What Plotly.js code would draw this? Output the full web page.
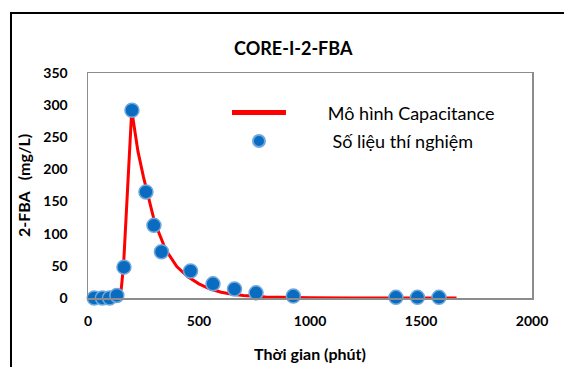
<!DOCTYPE html>
<html>
<head>
<meta charset="utf-8">
<script src="https://cdn.plot.ly/plotly-3.0.1.min.js"></script>
<style>
  html, body { margin:0; padding:0; background:#fff; }
  #wrap { position:relative; width:564px; height:367px; overflow:hidden; }
  #chart { position:absolute; left:0; top:0; width:564px; height:367px; }
  #frame { position:absolute; left:10px; top:12px; width:600px; height:420px; border:2px solid #000; pointer-events:none; }
</style>
</head>
<body>
<div id="wrap">
  <div id="chart"></div>
  <div id="frame"></div>
</div>
<script>
// Model curve (Mô hình Capacitance)
const modelTime = [0, 50, 100, 130, 140, 150, 160, 180, 197, 210, 225, 250, 275, 300, 350, 400, 450, 500, 550, 600, 650, 700, 800, 900, 1000, 1200, 1400, 1660];
const modelConc = [0, 0, 0, 0, 2, 15, 50, 180, 292, 262, 228, 188, 151, 118, 75, 49, 33, 22, 14, 9, 6, 4, 1.5, 0.6, 0.2, 0, 0, 0];

// Experimental data (Số liệu thí nghiệm)
const expTime = [28, 65, 97, 130, 162, 198, 261, 297, 331, 462, 563, 660, 757, 925, 1387, 1484, 1581];
const expConc = [0, 0, 0, 4, 48, 292, 165, 113, 72, 42, 22, 14, 8, 3, 1, 1, 1];

const xTicks = [0, 500, 1000, 1500, 2000];
const yTicks = [0, 50, 100, 150, 200, 250, 300, 350];

const FONT = 'Lato, "Open Sans", sans-serif';
const NB = '\u00a0';

const traces = [
  {
    x: modelTime, y: modelConc, type: 'scatter', mode: 'lines',
    name: NB.repeat(8) + 'Mô hình Capacitance',
    line: { color: '#FF0000', width: 3 },
    legendgroup: 'a', cliponaxis: false
  },
  {
    x: expTime, y: expConc, type: 'scatter', mode: 'markers',
    name: NB.repeat(9) + 'Số liệu thí nghiệm',
    marker: { color: '#0A6CC0', size: 14, line: { color: '#6FA8DC', width: 1.5 } },
    legendgroup: 'b', cliponaxis: false
  }
];

const layout = {
  width: 564, height: 367,
  margin: { l: 88, r: 32, t: 73, b: 69 },
  paper_bgcolor: '#fff', plot_bgcolor: '#fff',
  font: { family: FONT, color: '#000' },
  showlegend: true,
  title: {
    text: '<b>CORE-I-2-FBA</b>',
    font: { family: FONT, size: 18, color: '#000' },
    xref: 'container', yref: 'container',
    x: 0.52, xanchor: 'center', y: 0.866, yanchor: 'middle'
  },
  xaxis: {
    range: [0, 2000], tickvals: xTicks, ticktext: xTicks.map(v => '<b>' + v + '</b>'),
    showgrid: false, zeroline: false, ticks: '',
    showline: true, linecolor: '#8c8c8c', linewidth: 1.5, mirror: true,
    tickfont: { family: FONT, size: 14, color: '#000' },
    ticklabelstandoff: 10,
    title: { text: '<b>Thời gian (phút)</b>', font: { family: FONT, size: 16, color: '#000' }, standoff: 20 }
  },
  yaxis: {
    range: [0, 350], tickvals: yTicks, ticktext: yTicks.map(v => '<b>' + v + '</b>'),
    showgrid: false, zeroline: false, ticks: '',
    showline: true, linecolor: '#8c8c8c', linewidth: 1.5, mirror: true,
    tickfont: { family: FONT, size: 14, color: '#000' },
    ticklabelstandoff: 16,
    title: { text: '<b>2-FBA' + NB.repeat(3) + '(mg/L)</b>', font: { family: FONT, size: 16, color: '#000' }, standoff: 8 }
  },
  legend: {
    x: 0.313, y: 0.905, xanchor: 'left', yanchor: 'top',
    bgcolor: 'rgba(0,0,0,0)', borderwidth: 0,
    font: { family: FONT, size: 18, color: '#000' },
    traceorder: 'grouped', tracegroupgap: 2,
    itemwidth: 54, itemsizing: 'constant'
  }
};

Plotly.newPlot('chart', traces, layout, { displayModeBar: false, staticPlot: true });
</script>
</body>
</html>
